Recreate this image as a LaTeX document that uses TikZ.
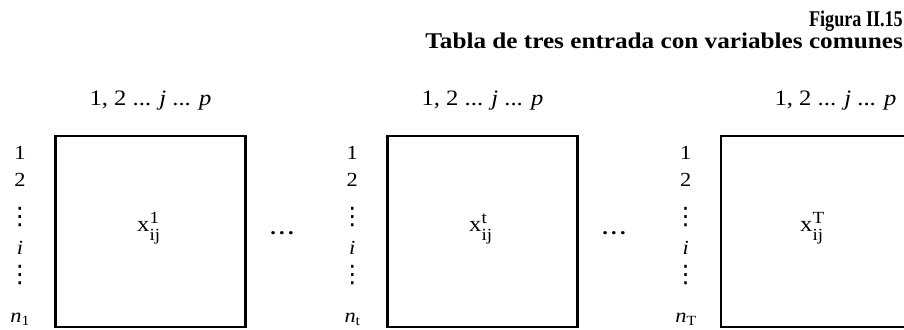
\documentclass[tikz,border=0pt]{standalone}
\usepackage{fontspec}
\setmainfont{Liberation Serif}[FakeStretch=1.12]
\newfontfamily\dvfont{DejaVu Sans}
\newcommand{\vdts}{{\dvfont\fontsize{24}{24}\selectfont ⋮}}
\newcommand{\sups}[1]{x\rlap{\raisebox{8.5pt}{\fontsize{17}{17}\selectfont #1}}\raisebox{-9pt}{\fontsize{17}{17}\selectfont ij}}
\newcommand{\nsub}[1]{\textit{n}\raisebox{-3pt}{\fontsize{14}{14}\selectfont #1}}
\begin{document}
\begin{tikzpicture}[x=1pt,y=1pt,
  tbl/.style={draw, line width=2.2pt, minimum width=190pt, minimum height=191pt, inner sep=0pt, anchor=center},
  lab/.style={inner sep=0pt, font=\fontsize{20}{24}\selectfont, anchor=base},
  dts/.style={inner sep=0pt, font=\fontsize{20}{24}\selectfont, anchor=center},
  hdr/.style={inner sep=0pt, font=\fontsize{22}{26}\selectfont, anchor=base},
  ttl/.style={inner sep=0pt, font=\bfseries\fontsize{22.5}{26}\selectfont, anchor=base east},
  ent/.style={inner sep=0pt, font=\fontsize{22}{26}\selectfont, anchor=base west}]
\useasboundingbox (0,0) rectangle (904,329);
% title
\node[ttl] (t1) at (903,302) {\scalebox{0.72}[1]{Figura II.15}};
\node[ttl] (t2) at (903,280) {Tabla de tres entrada con variables comunes};
% boxes
\node[tbl] (b1) at (150.5,97.25) {};
\node[tbl] (b2) at (482.5,97.25) {};
\node[tbl] (b3) at (816.2,97.25) {};
% headers
\node[hdr] (h1) at (150.5,223) {1, 2 ... \textit{j} ... \textit{p}};
\node[hdr] (h2) at (482.5,223) {1, 2 ... \textit{j} ... \textit{p}};
\node[hdr] (h3) at (835.5,223) {1, 2 ... \textit{j} ... \textit{p}};
% entries
\node[ent] (e1) at (137,97) {\sups{1}};
\node[ent] (e2) at (469,97) {\sups{t}};
\node[ent] (e3) at (800,97) {\sups{T}};
% dots between
\node[dts, font=\bfseries\fontsize{20}{24}\selectfont] (d1) at (282,96) {.\kern3.3pt.\kern3.3pt.};
\node[dts, font=\bfseries\fontsize{20}{24}\selectfont] (d2) at (614,96) {.\kern3.3pt.\kern3.3pt.};
% row labels
\foreach \c/\s [count=\k] in {20/1, 352.3/t, 685.7/T}{
  \node[lab] (r\k a) at (\c,169) {1};
  \node[lab] (r\k b) at (\c,142) {2};
  \node[dts] (r\k c) at (\c,112) {\vdts};
  \node[lab] (r\k d) at (\c,74) {\textit{i}};
  \node[dts] (r\k e) at (\c,54) {\vdts};
  \node[lab] (r\k f) at (\c,6) {\nsub{\s}};
}
\end{tikzpicture}
\end{document}
